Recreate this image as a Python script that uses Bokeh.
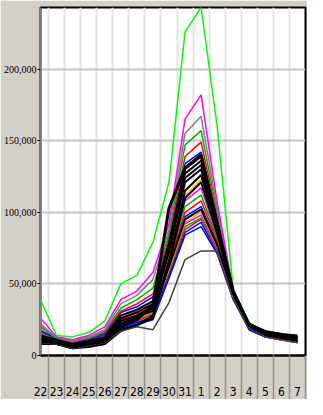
from bokeh.plotting import figure
from bokeh.models import Range1d, FixedTicker, NumeralTickFormatter
from bokeh.embed import file_html
from bokeh.resources import INLINE

days = ["22", "23", "24", "25", "26", "27", "28", "29", "30", "31", "1", "2", "3", "4", "5", "6", "7"]
y_ticks = [0, 50000, 100000, 150000, 200000]

# values in thousands
s_lime   = [39, 14, 13, 16, 24, 50, 56, 79, 121, 226, 243, 160, 46, 23, 16, 13, 12]
s_mag1   = [26, 13, 11, 14, 20, 39, 45, 58, 92, 165, 182, 107, 45, 21, 15, 13, 11]
s_gray1  = [21, 13, 10, 13, 18, 36, 42, 53, 88, 155, 167, 103, 44, 20, 15, 12, 11]
s_green1 = [20, 12, 10, 12, 17, 33, 39, 47, 85, 147, 157, 100, 44, 22, 15, 12, 11]
s_red1   = [22, 12, 9, 12, 16, 31, 36, 43, 83, 139, 149, 97, 45, 20, 15, 12, 10]
s_blue1  = [17, 12, 9, 11, 15, 30, 34, 41, 80, 134, 142, 95, 44, 20, 14, 12, 10]
s_gold   = [14, 11, 8, 10, 13, 26, 29, 36, 70, 112, 123, 86, 43, 19, 14, 11, 10]
s_mag2   = [18, 12, 9, 11, 14, 28, 31, 38, 69, 108, 117, 84, 44, 20, 14, 12, 10]
s_green2 = [16, 12, 8, 10, 13, 26, 30, 35, 67, 104, 112, 82, 43, 19, 14, 12, 10]
s_red2   = [15, 11, 8, 10, 13, 25, 29, 34, 65, 100, 108, 80, 42, 19, 14, 11, 10]
s_blue2  = [13, 11, 8, 9, 12, 24, 28, 33, 63, 97, 104, 78, 42, 18, 13, 11, 10]
s_orange = [12, 10, 7, 9, 12, 23, 26, 30, 60, 93, 100, 76, 42, 19, 14, 11, 10]
s_mag3   = [14, 11, 8, 10, 12, 24, 27, 32, 61, 92, 98, 75, 41, 19, 13, 11, 10]
s_green3 = [13, 10, 7, 9, 11, 22, 25, 30, 59, 90, 96, 74, 41, 18, 13, 11, 9]
s_red3   = [12, 10, 7, 9, 11, 21, 24, 29, 58, 88, 95, 73, 40, 18, 13, 11, 9]
s_blue3  = [12, 10, 7, 8, 10, 20, 23, 27, 56, 86, 93, 72, 40, 18, 13, 11, 9]
s_blue4  = [11, 9, 6, 8, 10, 19, 22, 25, 54, 84, 90, 71, 39, 18, 13, 11, 9]
s_blk1   = [14, 11, 8, 10, 13, 28, 32, 38, 78, 130, 139, 94, 44, 21, 16, 14, 12]
s_blk2   = [12, 10, 7, 9, 12, 26, 30, 36, 76, 127, 136, 92, 45, 22, 17, 15, 13]
s_blk3   = [11, 9, 7, 8, 11, 24, 28, 34, 74, 124, 133, 90, 44, 20, 15, 13, 11]
s_blk4   = [10, 9, 6, 8, 10, 22, 27, 33, 72, 121, 130, 88, 43, 19, 14, 12, 10]
s_blk5   = [11, 10, 7, 9, 11, 22, 27, 31, 62, 95, 102, 77, 43, 20, 15, 13, 12]
s_blk6   = [9, 8, 5, 7, 8, 18, 21, 28, 66, 115, 126, 87, 44, 21, 16, 14, 13]
s_blk7   = [8, 8, 5, 6, 8, 17, 21, 26, 64, 110, 121, 85, 43, 22, 17, 15, 14]
s_low    = [9, 8, 5, 7, 9, 17, 20, 18, 37, 67, 73, 73, 39, 19, 13, 11, 9]
s_thick  = [10, 9, 6, 8, 10, 20, 25, 35, 103, 131, 140, 92, 45, 21, 16, 14, 13]

series = [
    (s_blue4, "#0000ff", 1.5), (s_blue3, "#0000ff", 1.5), (s_red3, "#ff0000", 1.5),
    (s_green3, "#00b000", 1.5), (s_mag3, "#ff00ff", 1.5), (s_orange, "#ffa500", 1.5),
    (s_blue2, "#0000ff", 1.5), (s_red2, "#ff0000", 1.5),
    (s_green2, "#00b000", 1.5), (s_mag2, "#ff00ff", 1.5), (s_gold, "#ffc800", 1.5),
    (s_blue1, "#0000ff", 1.5), (s_red1, "#ff0000", 1.5),
    (s_green1, "#00b000", 1.5), (s_gray1, "#808080", 1.5), (s_mag1, "#ff00ff", 1.5),
    (s_lime, "#00ff00", 1.5),
    (s_blk5, "#000000", 2), (s_blk7, "#000000", 2), (s_blk6, "#000000", 2),
    (s_blk4, "#000000", 2), (s_blk3, "#000000", 2), (s_blk2, "#000000", 2),
    (s_blk1, "#000000", 2), (s_low, "#404040", 1.5), (s_thick, "#000000", 3),
]

x = list(range(len(days)))

p = figure(width=307, height=399, output_backend="svg", toolbar_location=None,
           x_range=Range1d(0, len(days) - 0.5), y_range=Range1d(0, 243000),
           min_border_top=7, min_border_right=2, min_border_bottom=44, min_border_left=0)
p.background_fill_color = "white"
p.border_fill_color = "#d4d0c8"
p.outline_line_color = "black"
p.outline_line_width = 2

for vals, col, w in series:
    p.line(x, [v * 1000 for v in vals], line_color=col, line_width=w)

xt = FixedTicker(ticks=x, minor_ticks=[i + 0.5 for i in x])
p.xaxis.ticker = xt
p.xaxis.major_label_overrides = {i: d for i, d in enumerate(days)}
p.xaxis.major_tick_out = 0
p.xaxis.major_tick_in = 0
p.xaxis.minor_tick_out = 44
p.xaxis.minor_tick_in = 0
p.xaxis.minor_tick_line_color = "#909090"
p.xaxis.minor_tick_line_width = 1.5
p.xaxis.axis_line_color = "black"
p.xaxis.axis_line_width = 2
p.xaxis.major_label_standoff = -13
p.xaxis.major_label_text_font = "DejaVu Sans Condensed"
p.xaxis.major_label_text_font_size = "12px"
p.xaxis.major_label_text_color = "black"

p.yaxis.ticker = FixedTicker(ticks=y_ticks)
p.yaxis.formatter = NumeralTickFormatter(format="0,0")
p.yaxis.minor_tick_line_color = None
p.yaxis.major_tick_out = 3
p.yaxis.major_tick_in = 0
p.yaxis.major_tick_line_color = "black"
p.yaxis.axis_line_color = "#808080"
p.yaxis.axis_line_width = 2
p.yaxis.major_label_standoff = 1
p.yaxis.major_label_text_font = "Liberation Sans Narrow"
p.yaxis.major_label_text_font_size = "10px"
p.yaxis.major_label_text_color = "black"

p.xgrid.grid_line_color = None
p.xgrid.minor_grid_line_color = "#e2e2e2"
p.xgrid.minor_grid_line_width = 2
p.ygrid.grid_line_color = "#c4c4c4"
p.ygrid.grid_line_width = 2

open("out.html", "w").write(file_html(p, INLINE))
